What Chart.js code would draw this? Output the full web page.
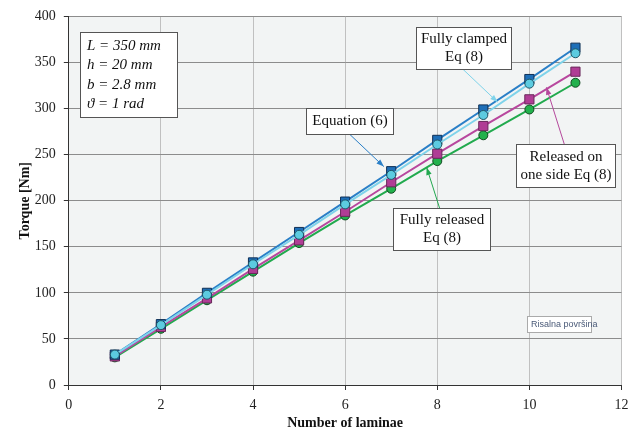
<!DOCTYPE html>
<html lang="en">
<head>
  <meta charset="UTF-8">
  <title>Torque vs number of laminae</title>
  <script src="https://cdn.jsdelivr.net/npm/chart.js"></script>
  <style>
    body { margin: 0; background: #fff; }
    #wrap { width: 629px; height: 430px; }
  </style>
</head>
<body>
<div id="wrap"><canvas id="torqueChart" width="629" height="430"></canvas></div>

<script>
  const laminae = [1, 2, 3, 4, 5, 6, 7, 8, 9, 10, 11];
  const equation6 = [33, 66, 100, 133, 166, 199, 232, 266, 299, 332, 366];
  const fullyClamped = [33, 65, 98, 131, 163, 196, 228, 261, 293, 327, 360];
  const releasedOneSide = [31, 63, 94, 126, 157, 188, 220, 251, 281, 310, 340];
  const fullyReleased = [30, 61, 92, 123, 154, 184, 213, 243, 271, 299, 328];

  const paramLines = ['L = 350 mm', 'h = 20 mm', 'b = 2.8 mm', 'ϑ = 1 rad'];

  // callouts: box corners, arrow start/end, all in data coords
  const callouts = [
    { text: ['Equation (6)'], box: [5.14, 301, 7.03, 272], from: [6.1, 272], to: [6.84, 237], color: '#2a7fc7' },
    { text: ['Fully clamped', 'Eq (8)'], box: [7.53, 389, 9.61, 343], from: [8.55, 343], to: [9.31, 307], color: '#7fd3ea' },
    { text: ['Released on', 'one side Eq (8)'], box: [9.7, 261, 11.85, 215], from: [10.76, 261], to: [10.37, 323], color: '#b5489c' },
    { text: ['Fully released', 'Eq (8)'], box: [7.03, 192, 9.14, 147], from: [8.05, 192], to: [7.77, 236], color: '#22a84f' }
  ];

  const serif = '"Liberation Serif", "DejaVu Serif", serif';

  const boxesPlugin = {
    id: 'boxes',
    afterDatasetsDraw(chart) {
      const { ctx, scales: { x, y } } = chart;
      ctx.save();
      // parameter box
      ctx.fillStyle = '#fff';
      ctx.strokeStyle = '#555';
      ctx.lineWidth = 1;
      ctx.fillRect(80.5, 32.5, 97, 85);
      ctx.strokeRect(80.5, 32.5, 97, 85);
      ctx.fillStyle = '#111';
      ctx.font = 'italic 15px ' + serif;
      ctx.textBaseline = 'middle';
      paramLines.forEach((t, i) => ctx.fillText(t, 87, 46 + i * 19.5));

      callouts.forEach(c => {
        const x0 = x.getPixelForValue(c.from[0]), y0 = y.getPixelForValue(c.from[1]);
        const x1 = x.getPixelForValue(c.to[0]), y1 = y.getPixelForValue(c.to[1]);
        ctx.strokeStyle = c.color;
        ctx.fillStyle = c.color;
        ctx.lineWidth = 1;
        ctx.beginPath();
        ctx.moveTo(x0, y0);
        ctx.lineTo(x1, y1);
        ctx.stroke();
        const a = Math.atan2(y1 - y0, x1 - x0);
        ctx.beginPath();
        ctx.moveTo(x1, y1);
        ctx.lineTo(x1 - 8 * Math.cos(a - 0.35), y1 - 8 * Math.sin(a - 0.35));
        ctx.lineTo(x1 - 8 * Math.cos(a + 0.35), y1 - 8 * Math.sin(a + 0.35));
        ctx.closePath();
        ctx.fill();

        const bx0 = Math.round(x.getPixelForValue(c.box[0])) + 0.5;
        const by0 = Math.round(y.getPixelForValue(c.box[1])) + 0.5;
        const bx1 = Math.round(x.getPixelForValue(c.box[2])) + 0.5;
        const by1 = Math.round(y.getPixelForValue(c.box[3])) + 0.5;
        ctx.fillStyle = '#fff';
        ctx.strokeStyle = '#555';
        ctx.fillRect(bx0, by0, bx1 - bx0, by1 - by0);
        ctx.strokeRect(bx0, by0, bx1 - bx0, by1 - by0);
        ctx.fillStyle = '#111';
        ctx.font = '15px ' + serif;
        ctx.textAlign = 'center';
        const cx = (bx0 + bx1) / 2;
        const cy = (by0 + by1) / 2;
        const lh = 18;
        c.text.forEach((t, i) => ctx.fillText(t, cx, cy + (i - (c.text.length - 1) / 2) * lh));
        ctx.textAlign = 'left';
      });

      // small watermark label
      ctx.fillStyle = '#fff';
      ctx.strokeStyle = '#aaa';
      ctx.fillRect(527.5, 316.5, 64, 16);
      ctx.strokeRect(527.5, 316.5, 64, 16);
      ctx.fillStyle = '#4a5a78';
      ctx.font = '9px "Liberation Sans", Arial, sans-serif';
      ctx.fillText('Risalna površina', 531, 325);
      ctx.restore();
    }
  };

  const bgPlugin = {
    id: 'bg',
    beforeDraw(chart) {
      const { ctx, chartArea: a } = chart;
      ctx.save();
      ctx.fillStyle = '#f2f4f4';
      ctx.fillRect(a.left, a.top, a.right - a.left, a.bottom - a.top);
      ctx.restore();
    }
  };

  function series(values) {
    return values.map((v, i) => ({ x: laminae[i], y: v }));
  }

  new Chart(document.getElementById('torqueChart'), {
    type: 'scatter',
    data: {
      datasets: [
        {
          label: 'Fully released Eq (8)',
          data: series(fullyReleased),
          showLine: true,
          borderColor: '#22aa4e',
          backgroundColor: '#22b14c',
          pointBorderColor: '#134a22',
          pointStyle: 'circle',
          pointRadius: 4.5,
          borderWidth: 2,
          pointBorderWidth: 1,
          order: 4
        },
        {
          label: 'Released on one side Eq (8)',
          data: series(releasedOneSide),
          showLine: true,
          borderColor: '#b8479e',
          backgroundColor: '#b03d95',
          pointBorderColor: '#6a2a5c',
          pointStyle: 'rect',
          pointRadius: 6.5,
          borderWidth: 2,
          pointBorderWidth: 1,
          order: 3
        },
        {
          label: 'Equation (6)',
          data: series(equation6),
          showLine: true,
          borderColor: '#2a7fc7',
          backgroundColor: '#1e6fb8',
          pointBorderColor: '#0f2f55',
          pointStyle: 'rect',
          pointRadius: 6.5,
          borderWidth: 2,
          pointBorderWidth: 1,
          order: 2
        },
        {
          label: 'Fully clamped Eq (8)',
          data: series(fullyClamped),
          showLine: true,
          borderColor: '#7fd3ea',
          backgroundColor: '#5ccbe0',
          pointBorderColor: '#1f5566',
          pointStyle: 'circle',
          pointRadius: 4.5,
          borderWidth: 2,
          pointBorderWidth: 1,
          order: 1
        }
      ]
    },
    options: {
      responsive: false,
      animation: false,
      layout: { padding: { top: 16, right: 0, left: 8, bottom: 0 } },
      plugins: {
        legend: { display: false },
        tooltip: { enabled: false }
      },
      scales: {
        x: {
          type: 'linear',
          min: 0,
          max: 12,
          afterFit(scale) {
            scale.paddingLeft = 0;
            scale.paddingRight = 7;
          },
          ticks: { stepSize: 2, padding: 8, color: '#222', font: { family: serif, size: 14, lineHeight: 1 } },
          grid: { color: '#c0c0c0', tickColor: '#333', tickLength: 5 },
          border: { color: '#333' },
          title: {
            display: true,
            text: 'Number of laminae',
            color: '#111',
            font: { family: serif, size: 14, weight: 'bold', lineHeight: 1 },
            padding: { top: -4, bottom: 0 }
          }
        },
        y: {
          min: 0,
          max: 400,
          ticks: { stepSize: 50, padding: 8, color: '#222', font: { family: serif, size: 14 } },
          grid: { color: '#8c8c8c', tickColor: '#333', tickLength: 5 },
          border: { color: '#333' },
          title: {
            display: true,
            text: 'Torque [Nm]',
            color: '#111',
            font: { family: serif, size: 14, weight: 'bold' },
            padding: { top: 9, bottom: -7 }
          }
        }
      }
    },
    plugins: [bgPlugin, boxesPlugin]
  });
</script>
</body>
</html>
